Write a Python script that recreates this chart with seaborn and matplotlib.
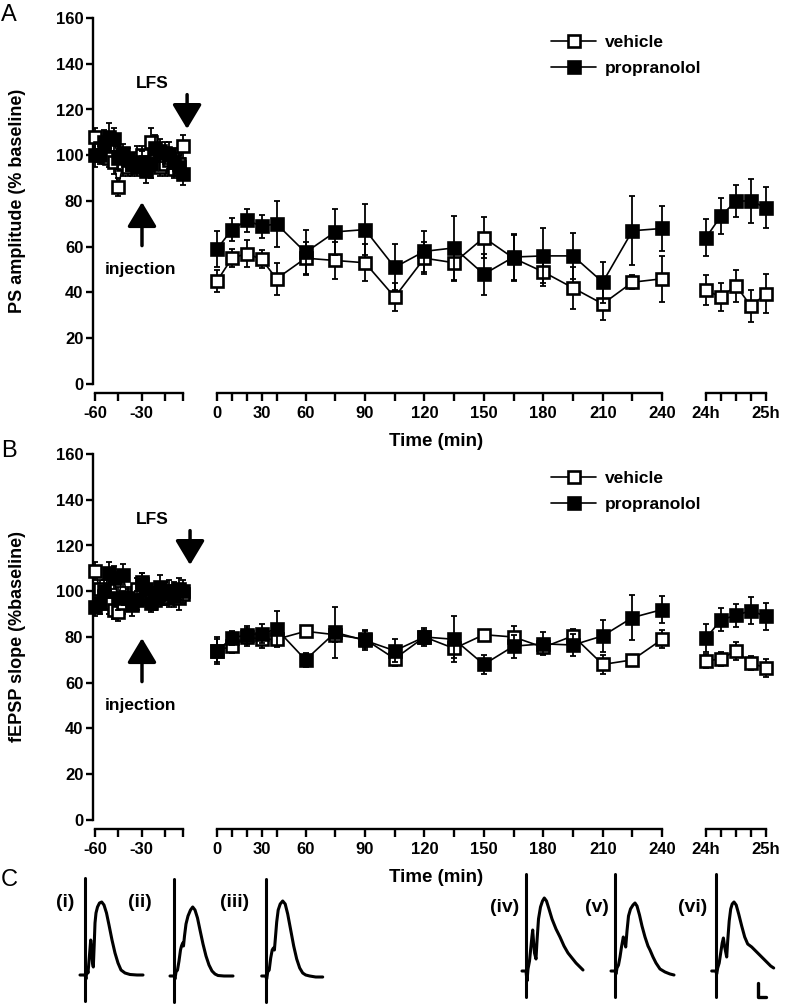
import numpy as np
import matplotlib
matplotlib.use("Agg")
import matplotlib.pyplot as plt
from matplotlib.lines import Line2D
import seaborn as sns

# ---------------- data ----------------
base_t = list(range(-60, 0, 3))
main_t = [0, 10, 20, 30, 40, 60, 75, 90, 105, 120, 135, 150, 165, 180, 195, 210, 225, 240]
late_t = [24, 24.25, 24.5, 24.75, 25]

# Panel A: PS amplitude
A_veh_base = [108, 103, 100, 99, 97, 86, 96, 95, 97, 99, 100, 97, 106, 98, 95, 96, 98, 94, 96, 104]
A_veh_base_err = [4, 5, 4, 4, 5, 4, 5, 4, 4, 5, 4, 5, 6, 5, 4, 5, 4, 4, 5, 5]
A_prop_base = [100, 100, 106, 108, 107, 99, 101, 98, 96, 95, 97, 93, 96, 103, 102, 101, 100, 97, 95, 92]
A_prop_base_err = [5, 4, 5, 6, 5, 5, 4, 5, 5, 4, 5, 5, 6, 6, 5, 5, 6, 6, 5, 5]
A_veh_main = [45, 55, 57, 54.5, 46, 55, 54, 53, 38, 55, 53, 64, 55, 49, 42, 35, 44.5, 46]
A_veh_main_err = [5, 4, 6, 4, 7, 7, 8, 8, 6, 7, 8, 9, 10, 6, 9, 7, 3, 10]
A_prop_main = [59, 67.5, 71.5, 69, 70, 57.5, 66.5, 67.5, 51, 58, 59.5, 48, 55.5, 56, 56, 44.5, 67, 68]
A_prop_main_err = [8, 5, 5, 5, 10, 10, 10, 11, 10, 9, 14, 9, 10, 12, 10, 9, 15, 10]
A_veh_late = [41, 38, 43, 34, 39.5]
A_veh_late_err = [6.5, 6, 7, 7, 8.5]
A_prop_late = [64, 73.5, 80, 80, 77]
A_prop_late_err = [8, 8, 7, 9.5, 9]

# Panel B: fEPSP slope
B_veh_base = [109, 101, 98, 95, 92, 91, 95, 97, 96, 101, 104, 99, 97, 96, 98, 99, 97, 100, 97, 99]
B_veh_base_err = [4, 4, 4, 5, 4, 4, 5, 4, 4, 5, 4, 4, 5, 4, 4, 5, 4, 4, 5, 4]
B_prop_base = [93, 95, 100, 108, 106, 97, 107, 97, 94, 96, 103, 101, 95, 97, 102, 99, 100, 98, 101, 100]
B_prop_base_err = [4, 5, 5, 5, 5, 5, 5, 5, 5, 4, 5, 5, 4, 5, 5, 5, 5, 5, 5, 5]
B_veh_main = [74, 76, 80, 79, 79, 82.5, 81, 79, 70.5, 80, 75, 81, 80, 75.5, 80.5, 68, 70, 79]
B_veh_main_err = [5, 3, 4, 4, 3, 2, 3, 4, 3, 3, 4, 2, 5, 3, 3, 4, 1, 4]
B_prop_main = [74, 79.5, 81, 81.5, 83.5, 70, 82, 78.5, 74, 80, 79, 68, 76, 77, 76.5, 80.5, 88.5, 92]
B_prop_main_err = [6, 3, 4, 4, 8, 3, 11, 4, 5, 4, 10, 4, 5, 5, 5, 7, 10, 6]
B_veh_late = [69.5, 70.5, 74, 68.5, 66.5]
B_veh_late_err = [3, 3, 4, 3, 4]
B_prop_late = [79.5, 87.5, 89.5, 91.5, 89]
B_prop_late_err = [6, 5, 5, 6, 6]

series_labels = ["vehicle", "propranolol"]
yticks = [0, 20, 40, 60, 80, 100, 120, 140, 160]
base_ticks = [-60, -45, -30, -15, -3]
base_ticklabels = ["-60", "", "-30", "", ""]
main_ticklabels = ["0", "", "", "30", "", "60", "", "90", "", "120", "", "150", "", "180", "", "210", "", "240"]
late_ticklabels = ["24h", "", "", "", "25h"]

# Panel C: representative traces (dx, dy relative to stimulus artifact / baseline)
tr_i_x = [-5, 0, 1, 2, 3, 4.5, 5.7, 6.5, 7.5, 8.3, 9.2, 10, 11, 12.5, 14.5, 16.7, 19, 21.5, 24, 27, 30, 33, 36, 40, 45, 52, 58]
tr_i_y = [0, 0, -4, 6, 2, 20, 35, 28, 12, 8, 30, 52, 62, 68, 72, 73, 70, 62, 50, 35, 22, 12, 5, 2, 0.5, 0, 0]
tr_ii_x = [-4, 0, 1, 2, 3.5, 5, 6.5, 7.5, 8.7, 9.5, 10.5, 12, 14, 16.5, 18.7, 21, 23.5, 26, 29, 32, 35, 38, 41, 44, 50, 59]
tr_ii_y = [0, 0, -3, 4, 6, 15, 26, 30, 33, 30, 40, 52, 60, 66, 69, 66, 58, 46, 32, 20, 11, 5, 2, 0.5, 0, 0]
tr_iii_x = [-4, 0, 1, 2, 3.5, 5, 6.5, 7.7, 8.7, 9.7, 11, 12.5, 14.5, 17, 19.5, 22, 25, 28, 31, 34, 37, 40, 44, 50, 57]
tr_iii_y = [0, 0, -3, 4, 6, 18, 26, 28, 26, 38, 54, 66, 72, 75, 72, 62, 46, 30, 17, 8, 3, 1, 0, -1, -1]
tr_iv_x = [-4, 0, 1, 2, 3.5, 5, 6, 6.7, 7.5, 8.5, 10, 11, 12.5, 14.5, 16.5, 18.3, 20.5, 23, 26, 30, 34, 38, 42, 46, 50, 54, 57]
tr_iv_y = [0, 0, -10, 2, 10, 25, 35, 41, 30, 18, 12, 30, 52, 64, 70, 73, 70, 62, 52, 42, 34, 25, 18, 13, 8, 4, 1]
tr_v_x = [-4, 0, 1, 2, 3.5, 5, 6.5, 8.3, 9.5, 10.7, 12, 13.5, 15.5, 18, 20, 22, 24.5, 27, 30, 33, 35, 38, 41, 45, 50, 55, 59]
tr_v_y = [0, 0, -3, 3, 6, 14, 24, 34, 30, 24, 40, 55, 62, 66, 68, 65, 56, 45, 34, 25, 21, 14, 8, 2, -1, -3, -4]
tr_vi_x = [-4, 0, 1, 2, 3.5, 5, 6.5, 7.7, 9, 11, 12, 13.5, 15, 16.5, 18.3, 20.5, 23, 26, 29, 32, 36, 40, 44, 48, 52, 55, 58]
tr_vi_y = [0, 0, -3, 3, 8, 18, 28, 33, 24, 14, 30, 50, 62, 67, 69, 66, 57, 45, 34, 27, 24, 20, 16, 12, 8, 5, 3]
artifact_y = [-26, 97]
trace_labels = ["(i)", "(ii)", "(iii)", "(iv)", "(v)", "(vi)"]
scalebar_x = [42.3, 42.3, 50]
scalebar_y = [-12, -26, -26]

# ---------------- style ----------------
sns.set_theme(style="ticks")
plt.rcParams["font.family"] = ["Liberation Sans", "DejaVu Sans"]
plt.rcParams["font.weight"] = "bold"
plt.rcParams["axes.labelweight"] = "bold"
for key in ["text.color", "axes.labelcolor", "xtick.color", "ytick.color", "axes.edgecolor"]:
    plt.rcParams[key] = "black"

W, H = 787, 1005
fig = plt.figure(figsize=(W / 100, H / 100), dpi=100)


def box(left, top, right, bottom):
    return [left / W, 1 - bottom / H, (right - left) / W, (bottom - top) / H]


# piecewise-linear time scale for middle segment (as in original figure)
T_BP = [-100, 0, 40, 60, 240, 400]
U_BP = [-155, 0, 59.5, 88.5, 445, 761.8]


def fwd(t):
    return np.interp(t, T_BP, U_BP)


def inv(u):
    return np.interp(u, U_BP, T_BP)


LW_SP = 1.7
MS = 8.8
MEW = 1.9
TICKFS = 12


def style_x(ax, ticks, labels, bounds):
    for s in ["top", "right"]:
        ax.spines[s].set_visible(False)
    ax.spines["bottom"].set_position(("outward", 6.5))
    ax.spines["bottom"].set_linewidth(LW_SP)
    ax.spines["bottom"].set_color("black")
    ax.spines["bottom"].set_bounds(*bounds)
    ax.set_xticks(ticks)
    ax.set_xticklabels(labels)
    ax.tick_params(axis="x", direction="out", length=6, width=LW_SP, colors="black",
                   labelcolor="black", labelsize=TICKFS, pad=3.5)
    ax.set_ylim(0, 160)
    ax.set_facecolor("none")


def plot_series(ax, x, y, err, filled):
    face = "black" if filled else "white"
    z = 4 if filled else 3
    ax.errorbar(x, y, yerr=err, fmt="none", ecolor="black", elinewidth=1.3,
                capsize=2.3, capthick=1.3, clip_on=False, zorder=z)
    sns.lineplot(x=x, y=y, ax=ax, color="black", linewidth=1.2, marker="s",
                 markersize=MS, markerfacecolor=face, markeredgecolor="black",
                 markeredgewidth=MEW, clip_on=False, zorder=z, estimator=None, sort=False)


def make_panel(top, bottom, veh_b, veh_be, prop_b, prop_be, veh_m, veh_me, prop_m, prop_me,
               veh_l, veh_le, prop_l, prop_le, ylabel, lfs_arrow_x, letter):
    # baseline segment (with y axis)
    axb = fig.add_axes(box(93, top, 195, bottom))
    axb.set_xlim(-61.3, 4.5)
    style_x(axb, base_ticks, base_ticklabels, (-60, -3))
    axb.spines["left"].set_linewidth(LW_SP)
    axb.spines["left"].set_color("black")
    axb.set_yticks(yticks)
    axb.tick_params(axis="y", direction="out", length=5, width=LW_SP, colors="black",
                    labelcolor="black", labelsize=TICKFS, pad=2)
    plot_series(axb, base_t, veh_b, veh_be, False)
    plot_series(axb, base_t, prop_b, prop_be, True)
    axb.set_xlabel("")
    axb.set_ylabel("")

    # main 0-240 min segment
    axm = fig.add_axes(box(201.5, top, 682, bottom))
    axm.set_xscale("function", functions=(fwd, inv))
    axm.set_xlim(-10, 250)
    style_x(axm, main_t, main_ticklabels, (0, 240))
    axm.spines["left"].set_visible(False)
    axm.set_yticks([])
    plot_series(axm, main_t, veh_m, veh_me, False)
    plot_series(axm, main_t, prop_m, prop_me, True)
    axm.set_xlabel("")
    axm.set_ylabel("")

    # 24-25 h segment
    axl = fig.add_axes(box(695, top, 780, bottom))
    axl.set_xlim(23.8167, 25.2333)
    style_x(axl, late_t, late_ticklabels, (24, 25))
    axl.spines["left"].set_visible(False)
    axl.set_yticks([])
    plot_series(axl, late_t, veh_l, veh_le, False)
    plot_series(axl, late_t, prop_l, prop_le, True)
    axl.set_xlabel("")
    axl.set_ylabel("")

    # annotations
    aprops = dict(arrowstyle="-|>,head_length=1.0,head_width=0.6", lw=2.5, color="black",
                  mutation_scale=15, shrinkA=0, shrinkB=0)
    axb.annotate("", xy=(lfs_arrow_x, 111.5), xytext=(lfs_arrow_x, 126.5),
                 arrowprops=aprops, annotation_clip=False)
    axb.text(-23.2, 131.3, "LFS", ha="center", va="center", fontsize=12.5, fontweight="bold",
             color="black")
    axb.annotate("", xy=(-29.7, 79.5), xytext=(-29.7, 60.5),
                 arrowprops=aprops, annotation_clip=False)
    axb.text(-30.5, 50, "injection", ha="center", va="center", fontsize=12.5, fontweight="bold",
             color="black")

    # labels
    mid = (top + bottom) / 2
    fig.text(18 / W, 1 - mid / H, ylabel, rotation=90, ha="center", va="center",
             fontsize=13, fontweight="bold", color="black")
    fig.text(436 / W, 1 - (bottom + 57) / H, "Time (min)", ha="center", va="center",
             fontsize=13.5, fontweight="bold", color="black")
    fig.text(1 / W, 1 - (top - 3) / H, letter, ha="left", va="center", fontsize=17,
             fontweight="normal", color="black")

    handles = [
        Line2D([], [], color="black", lw=1.2, marker="s", markersize=MS, markerfacecolor="white",
               markeredgecolor="black", markeredgewidth=MEW),
        Line2D([], [], color="black", lw=1.2, marker="s", markersize=MS, markerfacecolor="black",
               markeredgecolor="black", markeredgewidth=MEW),
    ]
    leg = fig.legend(handles, series_labels, loc="upper left",
                     bbox_to_anchor=(551 / W, 1 - (top + 17) / H), frameon=False,
                     borderpad=0, borderaxespad=0, handlelength=2.6, handletextpad=0.5,
                     labelspacing=0.6, prop={"size": 12.5, "weight": "bold"})
    for t in leg.get_texts():
        t.set_color("black")


make_panel(18, 384, A_veh_base, A_veh_base_err, A_prop_base, A_prop_base_err,
           A_veh_main, A_veh_main_err, A_prop_main, A_prop_main_err,
           A_veh_late, A_veh_late_err, A_prop_late, A_prop_late_err,
           "PS amplitude (% baseline)", -0.6, "A")
make_panel(454, 820, B_veh_base, B_veh_base_err, B_prop_base, B_prop_base_err,
           B_veh_main, B_veh_main_err, B_prop_main, B_prop_main_err,
           B_veh_late, B_veh_late_err, B_prop_late, B_prop_late_err,
           "fEPSP slope (%baseline)", 1.3, "B")

# ---------------- panel C ----------------
fig.text(1 / W, 1 - 880 / H, "C", ha="left", va="center", fontsize=17, fontweight="normal",
         color="black")
traces = [(tr_i_x, tr_i_y), (tr_ii_x, tr_ii_y), (tr_iii_x, tr_iii_y),
          (tr_iv_x, tr_iv_y), (tr_v_x, tr_v_y), (tr_vi_x, tr_vi_y)]
art_pos = [(85, 975), (174, 976), (265.7, 976), (526, 971), (615, 971), (715.7, 971)]
lab_pos = [(65, 902), (140, 902), (235, 902), (505, 907), (597, 907), (693, 907)]
for k, ((tx, ty), (axx, by), (lx, ly), lab) in enumerate(zip(traces, art_pos, lab_pos, trace_labels)):
    axc = fig.add_axes(box(axx - 10, by - 100, axx + 65, by + 30))
    axc.set_xlim(-10, 65)
    axc.set_ylim(-30, 100)
    axc.axis("off")
    sns.lineplot(x=[0, 0], y=artifact_y, ax=axc, color="black", linewidth=2.2,
                 estimator=None, sort=False)
    sns.lineplot(x=tx, y=ty, ax=axc, color="black", linewidth=2.2,
                 estimator=None, sort=False)
    if k == 5:
        sns.lineplot(x=scalebar_x, y=scalebar_y, ax=axc, color="black", linewidth=2.4,
                     estimator=None, sort=False)
    fig.text(lx / W, 1 - ly / H, lab, ha="center", va="center", fontsize=14,
             fontweight="bold", color="black")

fig.savefig("out.png", dpi=100)
